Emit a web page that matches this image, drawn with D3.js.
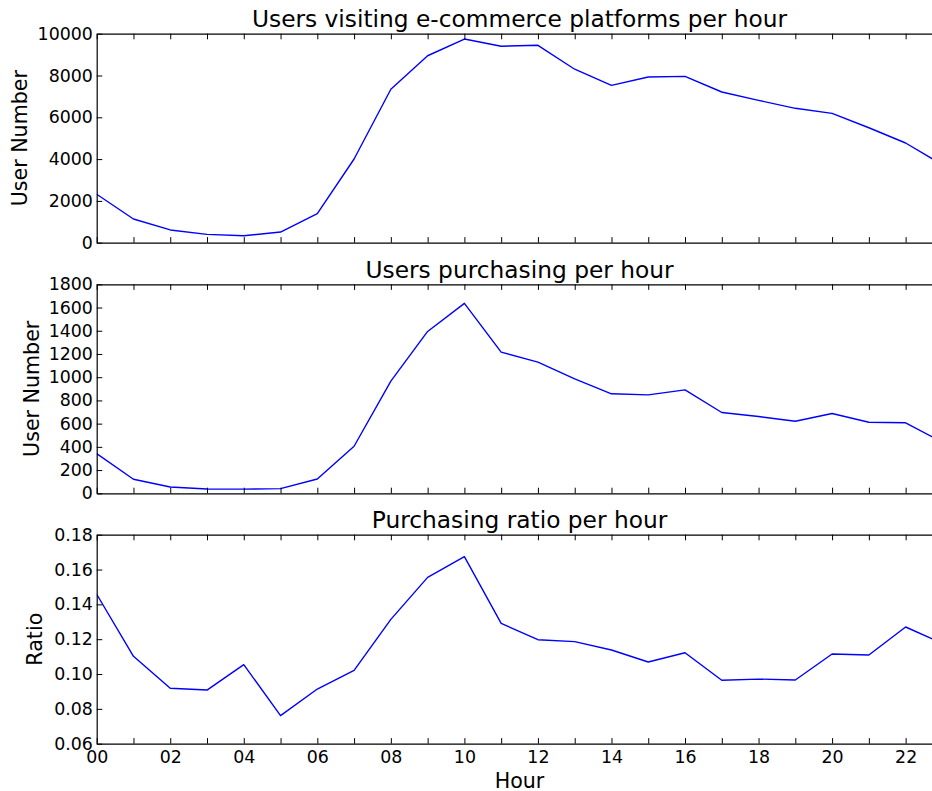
<!DOCTYPE html>
<html>
<head>
<meta charset="utf-8">
<script src="https://cdn.jsdelivr.net/npm/d3@7"></script>
<style>
  html, body { margin: 0; padding: 0; background: #fff; }
  svg { display: block; font-family: "DejaVu Sans", sans-serif; }
</style>
</head>
<body>
<svg id="chart" width="932" height="791"></svg>
<script>
// Hour of day (0-23) and its two-digit label
const hours = [0, 1, 2, 3, 4, 5, 6, 7, 8, 9, 10, 11, 12, 13, 14, 15, 16, 17, 18, 19, 20, 21, 22, 23];
const hourLabels = ["00", "01", "02", "03", "04", "05", "06", "07", "08", "09", "10", "11",
                    "12", "13", "14", "15", "16", "17", "18", "19", "20", "21", "22", "23"];

// Users visiting e-commerce platforms per hour
const visitors = [2320, 1135, 610, 400, 335, 510, 1390, 4005, 7340, 8945, 9745, 9400,
                  9445, 8300, 7530, 7930, 7960, 7210, 6810, 6430, 6190, 5500, 4770, 3730];
// Users purchasing per hour
const purchasers = [342, 121, 54, 37, 36, 40, 123, 405, 966, 1394, 1636, 1216,
                    1130, 986, 857, 848, 891, 696, 661, 621, 687, 612, 607, 440];
// Purchasing ratio per hour
const ratio = [0.1458, 0.1102, 0.0918, 0.0908, 0.1054, 0.0761, 0.0914, 0.1021, 0.1314, 0.1555, 0.1674, 0.1291,
               0.1197, 0.1186, 0.1138, 0.1069, 0.1122, 0.0964, 0.0971, 0.0966, 0.1115, 0.1109, 0.1270, 0.1176];

const visitorTicks = [0, 2000, 4000, 6000, 8000, 10000];
const purchaserTicks = [0, 200, 400, 600, 800, 1000, 1200, 1400, 1600, 1800];
const ratioTicks = [0.06, 0.08, 0.10, 0.12, 0.14, 0.16, 0.18];

const titles = ["Users visiting e-commerce platforms per hour", "Users purchasing per hour", "Purchasing ratio per hour"];
const yLabels = ["User Number", "User Number", "Ratio"];

const panels = [
  { title: titles[0], ylabel: yLabels[0], values: visitors, ticks: visitorTicks, domain: [0, 10000], fmt: d3.format("d"), top: 33.7, labelX: 20 },
  { title: titles[1], ylabel: yLabels[1], values: purchasers, ticks: purchaserTicks, domain: [0, 1800], fmt: d3.format("d"), top: 284.3, labelX: 31.7 },
  { title: titles[2], ylabel: yLabels[2], values: ratio, ticks: ratioTicks, domain: [0.06, 0.18], fmt: d3.format(".2f"), top: 534.7, labelX: 35 }
];

const svg = d3.select("#chart");
svg.append("rect").attr("width", 932).attr("height", 791).attr("fill", "#fff");

const left = 96.7, right = 942.4, plotH = 209;
const TICK = 5.6;

const x = d3.scaleLinear().domain([0, 23]).range([left, right]);

panels.forEach((p, i) => {
  const top = p.top, bottom = top + plotH;
  const y = d3.scaleLinear().domain(p.domain).range([bottom, top]);
  const g = svg.append("g");

  const clipId = "clip" + i;
  svg.append("clipPath").attr("id", clipId)
    .append("rect").attr("x", left).attr("y", top).attr("width", right - left).attr("height", plotH);

  // data line
  g.append("path")
    .datum(p.values)
    .attr("clip-path", `url(#${clipId})`)
    .attr("fill", "none")
    .attr("stroke", "#0000ff")
    .attr("stroke-width", 1.4)
    .attr("stroke-linejoin", "round")
    .attr("d", d3.line().x((d, k) => x(hours[k])).y(d => y(d)));

  // left axis, ticks pointing inward
  const yAxis = d3.axisLeft(y).tickValues(p.ticks).tickFormat(p.fmt)
    .tickSizeInner(-TICK).tickSizeOuter(0).tickPadding(3.8);
  const ya = g.append("g").attr("transform", `translate(${left},0)`).call(yAxis);

  // bottom axis with hour labels only on the last panel
  const isLast = i === panels.length - 1;
  const xAxis = d3.axisBottom(x).tickValues(hours)
    .tickFormat((d, k) => (isLast && d % 2 === 0) ? hourLabels[k] : "")
    .tickSizeInner(-TICK).tickSizeOuter(0).tickPadding(7);
  const xa = g.append("g").attr("transform", `translate(0,${bottom})`).call(xAxis);

  const xTop = d3.axisTop(x).tickValues(hours).tickFormat("")
    .tickSizeInner(-TICK).tickSizeOuter(0);
  const xt = g.append("g").attr("transform", `translate(0,${top})`).call(xTop);

  const yRight = d3.axisRight(y).tickValues(p.ticks).tickFormat("")
    .tickSizeInner(-TICK).tickSizeOuter(0);
  const yr = g.append("g").attr("transform", `translate(${right},0)`).call(yRight);

  [ya, xa, xt, yr].forEach(a => {
    a.selectAll("text").attr("fill", "#000").style("font-size", "17.4px").style("font-family", "DejaVu Sans, sans-serif");
    a.selectAll("line").attr("stroke", "#000").attr("stroke-width", 1);
    a.select(".domain").attr("stroke", "#000").attr("stroke-width", 1.2);
  });

  // title
  g.append("text")
    .attr("x", (left + right) / 2)
    .attr("y", top - 6.5)
    .attr("text-anchor", "middle")
    .style("font-size", "23.3px")
    .text(p.title);

  // y label
  g.append("text")
    .attr("transform", `translate(${p.labelX},${(top + bottom) / 2}) rotate(-90)`)
    .attr("text-anchor", "middle")
    .attr("dominant-baseline", "central")
    .style("font-size", "20.6px")
    .text(p.ylabel);

  if (isLast) {
    g.append("text")
      .attr("x", x(11.5))
      .attr("y", 787.5)
      .attr("text-anchor", "middle")
      .style("font-size", "20.6px")
      .text("Hour");
  }
});
</script>
</body>
</html>
